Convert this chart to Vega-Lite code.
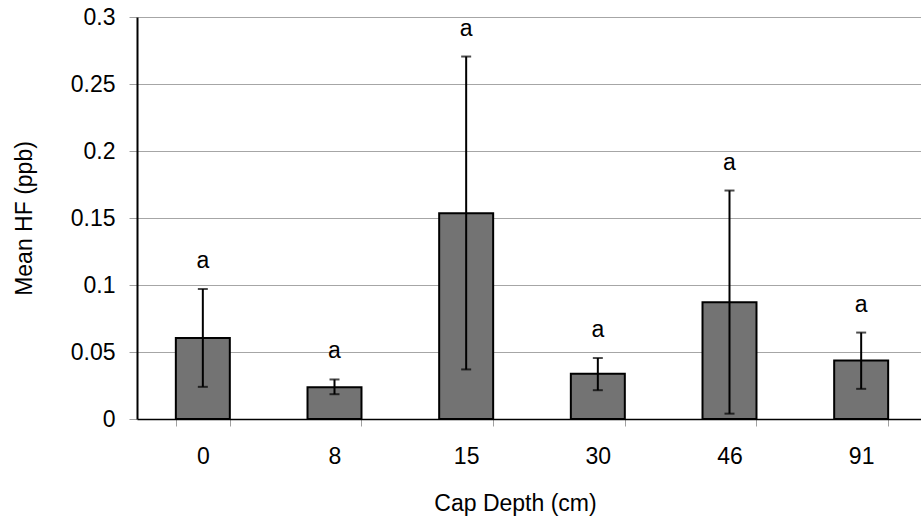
{
  "$schema": "https://vega.github.io/schema/vega-lite/v6.json",
  "autosize": "none",
  "padding": {"left": 137, "top": 17, "right": 0, "bottom": 105},
  "width": 790,
  "height": 402,
  "config": {
    "font": "Liberation Sans",
    "view": {"stroke": null}
  },
  "data": {
    "values": [
      {"depth": "0", "mean": 0.0605, "lower": 0.024, "upper": 0.097, "letter": "a"},
      {"depth": "8", "mean": 0.0237, "lower": 0.0185, "upper": 0.0295, "letter": "a"},
      {"depth": "15", "mean": 0.1535, "lower": 0.037, "upper": 0.2705, "letter": "a"},
      {"depth": "30", "mean": 0.0337, "lower": 0.0215, "upper": 0.0455, "letter": "a"},
      {"depth": "46", "mean": 0.0872, "lower": 0.004, "upper": 0.1705, "letter": "a"},
      {"depth": "91", "mean": 0.0437, "lower": 0.0225, "upper": 0.0645, "letter": "a"}
    ]
  },
  "encoding": {
    "x": {
      "field": "depth",
      "type": "nominal",
      "sort": null,
      "scale": {"paddingInner": 0.59, "paddingOuter": 0.295},
      "axis": {
        "title": "Cap Depth (cm)",
        "labelAngle": 0,
        "labelFontSize": 23,
        "labelColor": "#000",
        "labelPadding": 19,
        "titleFontSize": 23,
        "titleFontWeight": "normal",
        "titleColor": "#000",
        "titlePadding": 24,
        "titleX": 378,
        "tickBand": "extent",
        "tickColor": "#a0a0a0",
        "tickSize": 7,
        "domainColor": "#000",
        "domainWidth": 1.5,
        "grid": false
      }
    }
  },
  "layer": [
    {
      "mark": {"type": "bar", "fill": "#737373", "stroke": "#000", "strokeWidth": 2},
      "encoding": {
        "y": {
          "field": "mean",
          "type": "quantitative",
          "scale": {"domain": [0, 0.3], "nice": false},
          "axis": {
            "title": "Mean HF (ppb)",
            "values": [0, 0.05, 0.1, 0.15, 0.2, 0.25, 0.3],
            "format": "~g",
            "labelFontSize": 23,
            "labelColor": "#000",
            "labelPadding": 14,
            "titleFontSize": 23,
            "titleFontWeight": "normal",
            "titleColor": "#000",
            "titlePadding": 34,
            "tickColor": "#a0a0a0",
            "tickSize": 8,
            "domainColor": "#000",
            "domainWidth": 2,
            "gridColor": "#a6a6a6",
            "gridWidth": 1.2,
            "gridOpacity": 1
          }
        }
      }
    },
    {
      "mark": {"type": "rule", "color": "#000", "strokeWidth": 2},
      "encoding": {
        "y": {"field": "lower", "type": "quantitative"},
        "y2": {"field": "upper"}
      }
    },
    {
      "mark": {"type": "tick", "color": "#000", "size": 10, "thickness": 2},
      "encoding": {
        "y": {"field": "upper", "type": "quantitative"}
      }
    },
    {
      "mark": {"type": "tick", "color": "#000", "size": 10, "thickness": 2},
      "encoding": {
        "y": {"field": "lower", "type": "quantitative"}
      }
    },
    {
      "mark": {"type": "text", "fontSize": 23, "color": "#000", "baseline": "middle", "dy": -28},
      "encoding": {
        "y": {"field": "upper", "type": "quantitative"},
        "text": {"field": "letter"}
      }
    }
  ]
}
